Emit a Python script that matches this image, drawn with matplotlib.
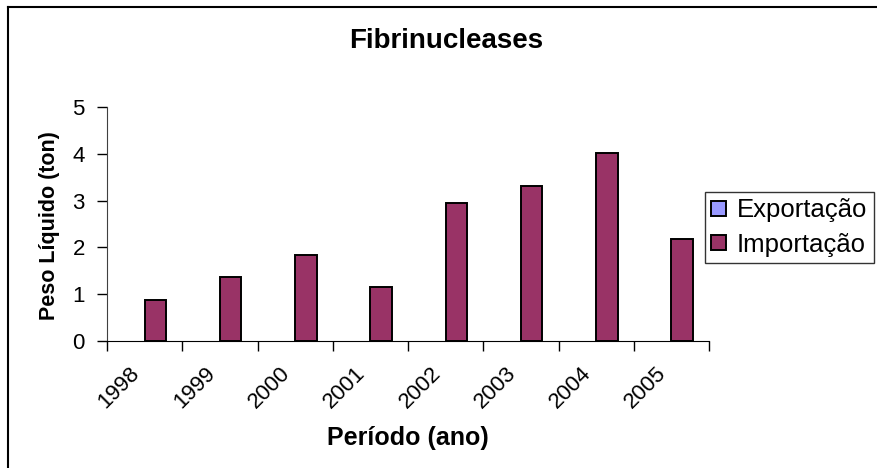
import matplotlib
matplotlib.use("Agg")
import matplotlib.pyplot as plt
from matplotlib.patches import Patch
from matplotlib.lines import Line2D
from matplotlib.transforms import ScaledTranslation
import numpy as np

plt.rcParams['font.family'] = ['Liberation Sans', 'DejaVu Sans']

# data (tons)
years = ['1998', '1999', '2000', '2001', '2002', '2003', '2004', '2005']
exportacao = [0, 0, 0, 0, 0, 0, 0, 0]
importacao = [0.88, 1.37, 1.84, 1.16, 2.95, 3.31, 4.02, 2.18]

W, H = 877, 468
fig = plt.figure(figsize=(W / 100, H / 100), dpi=100)
fig.patch.set_facecolor('white')

# plot area in pixel coords of the reference
ax = fig.add_axes([107 / W, 1 - 341 / H, 602 / W, 234 / H])
ax.set_facecolor('white')

x = np.arange(len(years))
bw = 1 / 3.5
# exportação is all zero: bars have no height, so no outline either
ax.bar(x - bw / 2, exportacao, bw, color='#9999FF', edgecolor='black', linewidth=0)
ax.bar(x + bw / 2, importacao, bw, color='#993366', edgecolor='black', linewidth=1.4)

ax.set_xlim(-0.5, len(years) - 0.5)
ax.set_ylim(0, 5)
ax.set_yticks(range(0, 6))
ax.tick_params(axis='y', labelsize=16, length=7, width=1, pad=9, direction='out')

# labels at category centers, tick marks at category boundaries
ax.set_xticks(x)
ax.set_xticklabels(years, rotation=45, ha='right', va='center', rotation_mode='anchor', fontsize=16)
ax.tick_params(axis='x', which='major', length=0, pad=21)
ax.set_xticks(np.arange(-0.5, len(years)), minor=True)
ax.tick_params(axis='x', which='minor', length=7, width=1, direction='out')
shift = ScaledTranslation(-8 / 100, 0, fig.dpi_scale_trans)
for lab in ax.get_xticklabels():
    lab.set_transform(lab.get_transform() + shift)

for s in ['top', 'right']:
    ax.spines[s].set_visible(False)
ax.spines['left'].set_color('#404040')
ax.spines['bottom'].set_color('black')

# texts
fig.text(446 / W, 1 - 41 / H, 'Fibrinucleases', ha='center', va='center', fontsize=20, fontweight='bold')
fig.text(408 / W, 1 - 438 / H, 'Período (ano)', ha='center', va='center', fontsize=18, fontweight='bold')
fig.text(50 / W, 1 - 226 / H, 'Peso Líquido (ton)', ha='center', va='center', rotation=90,
         fontsize=15.5, fontweight='bold')

# legend
handles = [Patch(facecolor='#9999FF', edgecolor='black', linewidth=1.4),
           Patch(facecolor='#993366', edgecolor='black', linewidth=1.4)]
leg = fig.legend(handles, ['Exportação', 'Importação'], loc='upper left',
                 bbox_to_anchor=(705 / W, 1 - 192 / H), fontsize=18.5, frameon=True,
                 fancybox=False, handlelength=0.55, handleheight=0.55, handletextpad=0.45,
                 labelspacing=0.4, borderpad=0.25, borderaxespad=0)
leg.get_frame().set_edgecolor('black')
leg.get_frame().set_linewidth(1)

# chart border (left and top edges visible)
fig.add_artist(Line2D([8 / W, 8 / W], [0, 1 - 7 / H], color='black', linewidth=1.5))
fig.add_artist(Line2D([8 / W, 1], [1 - 7 / H, 1 - 7 / H], color='black', linewidth=1.5))

fig.savefig('out.png', dpi=100)
